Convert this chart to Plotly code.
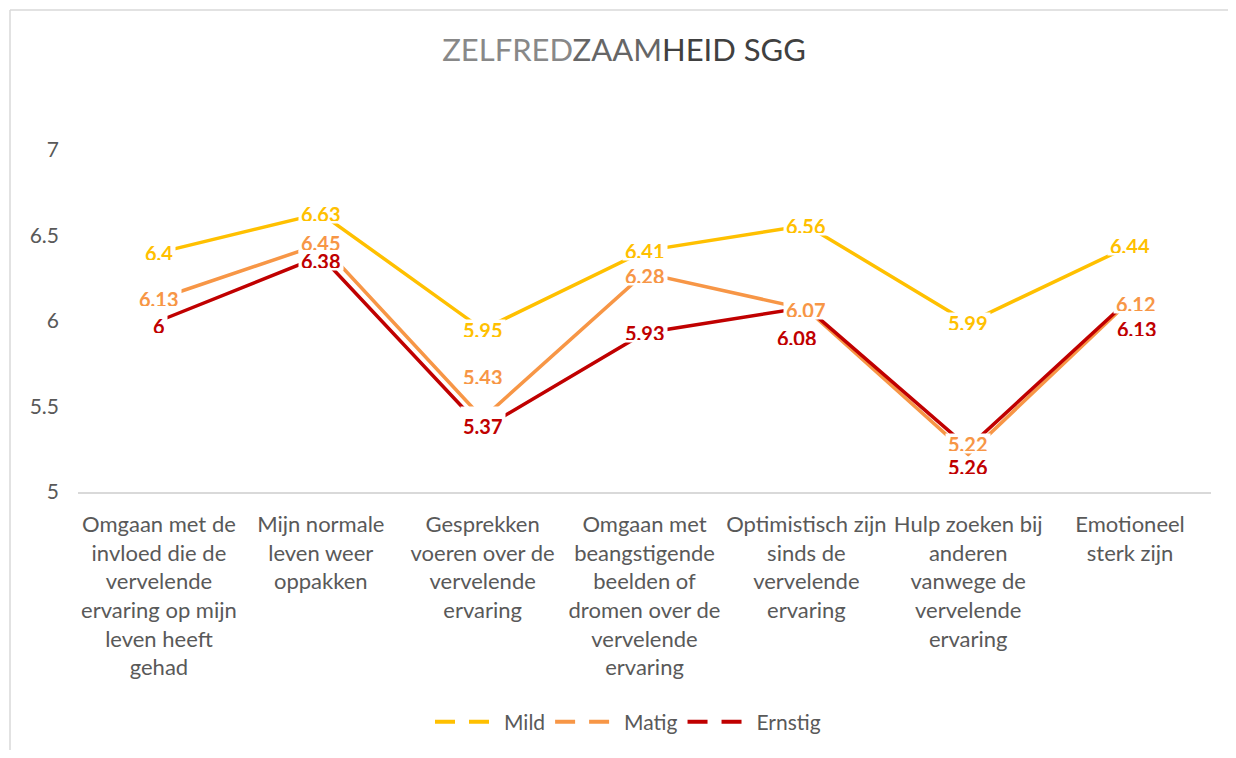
import plotly.graph_objects as go

# ---- data ----
categories = [
    "Omgaan met de<br>invloed die de<br>vervelende<br>ervaring op mijn<br>leven heeft<br>gehad",
    "Mijn normale<br>leven weer<br>oppakken",
    "Gesprekken<br>voeren over de<br>vervelende<br>ervaring",
    "Omgaan met<br>beangstigende<br>beelden of<br>dromen over de<br>vervelende<br>ervaring",
    "Optimistisch zijn<br>sinds de<br>vervelende<br>ervaring",
    "Hulp zoeken bij<br>anderen<br>vanwege de<br>vervelende<br>ervaring",
    "Emotioneel<br>sterk zijn",
]
series_names = ["Mild", "Matig", "Ernstig"]
mild = [6.4, 6.63, 5.95, 6.41, 6.56, 5.99, 6.44]
matig = [6.13, 6.45, 5.43, 6.28, 6.07, 5.22, 6.12]
ernstig = [6.0, 6.38, 5.37, 5.93, 6.08, 5.26, 6.13]
y_ticks = [5, 5.5, 6, 6.5, 7]

# ---- style ----
colors = {"Mild": "#FFC000", "Matig": "#F79646", "Ernstig": "#C00000"}
FONT = "Lato"
GRAY = "#595959"
# manual label displacements (pixels) where labels were moved in the original
label_shift = {
    ("Ernstig", 0): (0, -4),
    ("Matig", 2): (0, 42),
    ("Ernstig", 2): (0, 3),
    ("Ernstig", 4): (-9, -30),
    ("Matig", 5): (0, 11),
    ("Ernstig", 5): (0, -19),
    ("Ernstig", 6): (7, -30),
    ("Matig", 6): (6, -3),
    ("Ernstig", 1): (0, -4),
    ("Matig", 1): (0, 2),
    ("Matig", 3): (0, -2),
}
# label boxes that are taller in the original (they hide more of the lines)
label_box_height = {("Ernstig", 2): 34}

data = {"Mild": mild, "Matig": matig, "Ernstig": ernstig}

fig = go.Figure()
for name in series_names:
    fig.add_trace(go.Scatter(
        x=categories, y=data[name], mode="lines", name=name,
        line=dict(color=colors[name], width=3.5),
        showlegend=False, hoverinfo="skip",
    ))
# legend entries (dashed symbol like the original legend)
for name in series_names:
    fig.add_trace(go.Scatter(
        x=[None], y=[None], mode="lines", name=name,
        line=dict(color=colors[name], width=4, dash="20px,14px,20px,200px"),
    ))

annotations = []
for name in series_names:
    for i, v in enumerate(data[name]):
        dx, dy = label_shift.get((name, i), (0, 0))
        annotations.append(dict(
            x=categories[i], y=v, xref="x", yref="y",
            text=f"{v:g}", showarrow=False,
            font=dict(family=FONT, size=20, color=colors[name], weight="bold"),
            bgcolor="white", borderpad=2,
            height=label_box_height.get((name, i), 15),
            xshift=dx, yshift=dy, xanchor="center", yanchor="middle",
        ))
fig.update_layout(annotations=annotations)

# the page body adds an 8px margin; size the figure to fit inside the window
W, H = 1220, 742
L, R, T = 70, 17, 142
ph = 342
B = H - T - ph
pw = W - L - R

# outer chart frame (left and top edges visible)
fx = (2 - L) / pw
fy = (ph + T - 2) / ph
fig.add_shape(type="line", xref="paper", yref="paper", x0=fx, x1=1.5, y0=fy, y1=fy,
              line=dict(color="#D9D9D9", width=1.5))
fig.add_shape(type="line", xref="paper", yref="paper", x0=fx, x1=fx, y0=fy, y1=-2,
              line=dict(color="#D9D9D9", width=1.5))

title_html = ("<span style='color:#888888'>ZELFRED</span>"
              "<span style='color:#666666'>ZAAM</span>"
              "<span style='color:#404040'>HEID SGG</span>")

fig.update_layout(
    width=W, height=H,
    margin=dict(l=L, r=R, t=T, b=B, pad=0, autoexpand=False),
    paper_bgcolor="white", plot_bgcolor="white",
    font=dict(family=FONT, color=GRAY, size=21),
    title=dict(text=title_html, x=(624 - 8) / W, xref="container", xanchor="center",
               y=1 - 42 / H, yref="container", yanchor="middle",
               font=dict(family=FONT, size=31, color="#404040")),
    xaxis=dict(type="category", showgrid=False, zeroline=False, automargin=False,
               showline=True, linecolor="#D9D9D9", linewidth=1.5,
               ticks="", tickfont=dict(family=FONT, size=22, color=GRAY),
               ticklabelstandoff=12, range=[-0.5, 6.5]),
    yaxis=dict(range=[5, 7], tickvals=y_ticks, showgrid=False, zeroline=False,
               automargin=False, showline=False, ticks="", ticklabelstandoff=18,
               tickfont=dict(family=FONT, size=21, color=GRAY)),
    legend=dict(orientation="h", x=(620 - L) / pw, xanchor="center",
                y=(T + ph - 714) / ph, yanchor="middle",
                font=dict(family=FONT, size=21, color=GRAY),
                itemwidth=64, bgcolor="rgba(0,0,0,0)"),
    showlegend=True,
)

fig.write_html("out.html")
